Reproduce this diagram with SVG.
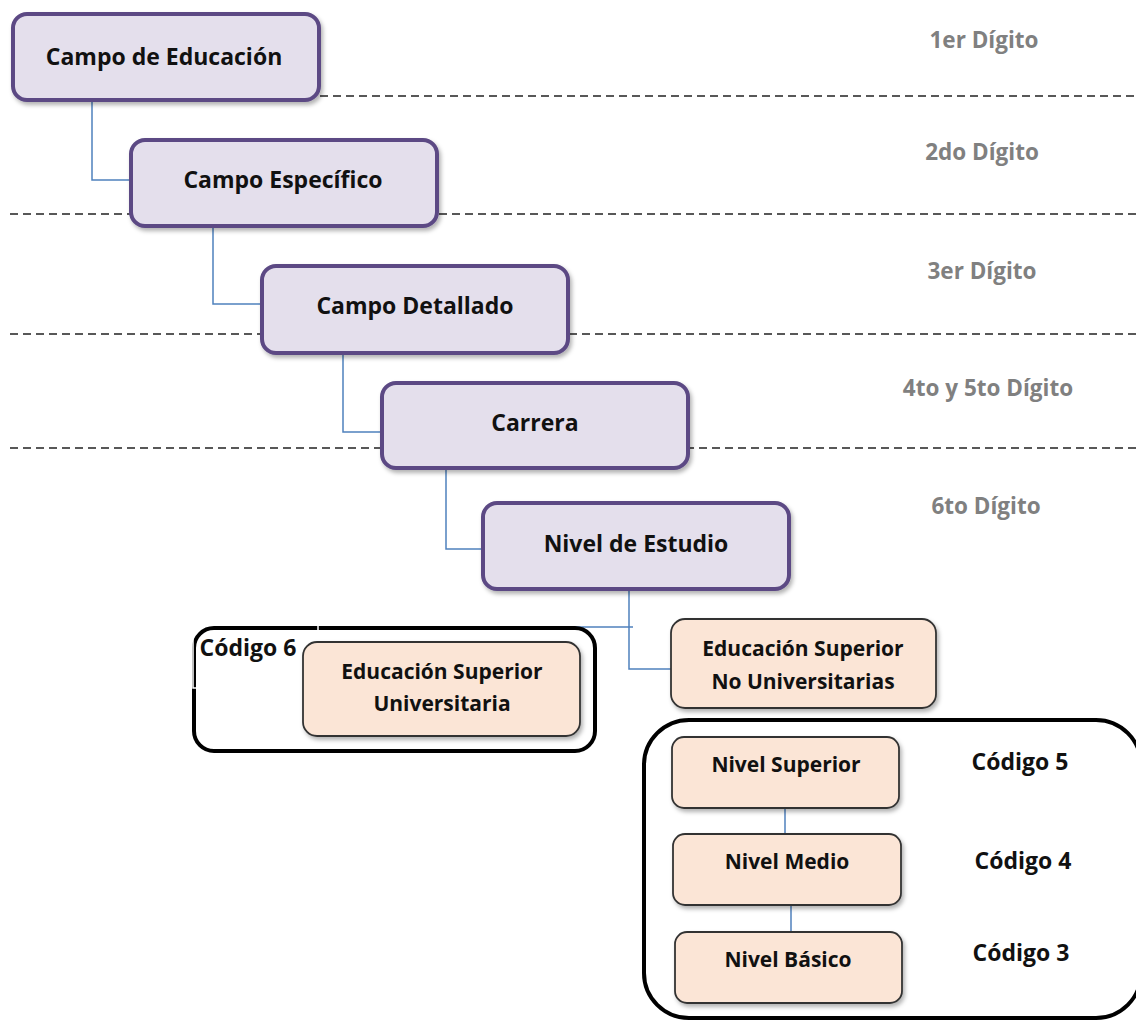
<svg xmlns="http://www.w3.org/2000/svg" width="1136" height="1021" viewBox="0 0 1136 1021">
<defs>
  <filter id="sh" x="-10%" y="-10%" width="125%" height="130%">
    <feDropShadow dx="2" dy="3" stdDeviation="2" flood-color="#000" flood-opacity="0.3"/>
  </filter>
</defs>
<style>
  .p { fill:#e4dfec; stroke:#5c4a84; stroke-width:4; filter:url(#sh); }
  .o { fill:#fbe5d6; stroke:#333333; stroke-width:1.8; filter:url(#sh); }
  .frame { fill:none; stroke:#000; stroke-width:4; }
  .t { font-family:"Open Sans","Liberation Sans",sans-serif; font-weight:bold; font-size:21px; fill:#111; text-anchor:middle; }
  .big { font-size:23px; }
  .g { font-family:"Open Sans","Liberation Sans",sans-serif; font-weight:bold; font-size:22.5px; fill:#808080; text-anchor:middle; }
  .dash { stroke:#222; stroke-width:1.6; stroke-dasharray:8 5; fill:none; }
  .c { stroke:#4f81bd; stroke-width:1.5; fill:none; }
</style>
<rect width="1136" height="1021" fill="#fff"/>

<g id="levels">
  <line class="dash" x1="320" y1="96" x2="1136" y2="96"/>
  <line class="dash" x1="10" y1="214" x2="1136" y2="214"/>
  <line class="dash" x1="10" y1="334" x2="1136" y2="334"/>
  <line class="dash" x1="10" y1="448" x2="1136" y2="448"/>
  <text class="g" x="984" y="48">1er Dígito</text>
  <text class="g" x="982" y="160">2do Dígito</text>
  <text class="g" x="982" y="279">3er Dígito</text>
  <text class="g" x="988" y="396">4to y 5to Dígito</text>
  <text class="g" x="986" y="514">6to Dígito</text>
</g>

<g id="connectors">
  <polyline class="c" points="92,100 92,180 130,180"/>
  <polyline class="c" points="213,226 213,304 261,304"/>
  <polyline class="c" points="343,353 343,432 382,432"/>
  <polyline class="c" points="446,468 446,549 483,549"/>
  <polyline class="c" points="629,589 629,669 671,669"/>
  <line class="c" x1="318" y1="627" x2="633" y2="627"/>
  <line class="c" x1="785" y1="808" x2="785" y2="834"/>
  <line class="c" x1="791" y1="905" x2="791" y2="932"/>
</g>

<g id="n1">
  <rect class="p" x="13" y="14" width="306" height="86" rx="14"/>
  <text class="t big" x="164" y="65">Campo de Educación</text>
</g>
<g id="n2">
  <rect class="p" x="131" y="140" width="306" height="86" rx="14"/>
  <text class="t big" x="283" y="188">Campo Específico</text>
</g>
<g id="n3">
  <rect class="p" x="262" y="266" width="306" height="87" rx="14"/>
  <text class="t big" x="415" y="314">Campo Detallado</text>
</g>
<g id="n4">
  <rect class="p" x="382" y="383" width="306" height="85" rx="14"/>
  <text class="t big" x="535" y="431">Carrera</text>
</g>
<g id="n5">
  <rect class="p" x="483" y="503" width="306" height="86" rx="14"/>
  <text class="t big" x="636" y="552">Nivel de Estudio</text>
</g>

<g id="codigo6">
  <rect class="frame" x="194" y="628" width="401" height="123" rx="20"/>
  <rect x="193" y="625" width="125" height="63" fill="none" stroke="#fff" stroke-width="1.5"/>
  <text class="t big" x="248" y="656">Código 6</text>
</g>
<g id="esu">
  <rect class="o" x="303" y="642" width="277" height="94" rx="14"/>
  <text class="t" x="442" y="679">Educación Superior</text>
  <text class="t" x="442" y="711">Universitaria</text>
</g>
<g id="enu">
  <rect class="o" x="671" y="619" width="265" height="89" rx="14"/>
  <text class="t" x="803" y="656">Educación Superior</text>
  <text class="t" x="803" y="689">No Universitarias</text>
</g>

<g id="frame-nu">
  <rect class="frame" x="644" y="720" width="497" height="298" rx="45"/>
</g>
<g id="nsup">
  <rect class="o" x="672" y="737" width="227" height="71" rx="12"/>
  <text class="t" x="786" y="772">Nivel Superior</text>
</g>
<g id="nmed">
  <rect class="o" x="673" y="834" width="228" height="71" rx="12"/>
  <text class="t" x="787" y="869">Nivel Medio</text>
</g>
<g id="nbas">
  <rect class="o" x="675" y="932" width="227" height="71" rx="12"/>
  <text class="t" x="788" y="967">Nivel Básico</text>
</g>
<g id="codes">
  <text class="t big" x="1020" y="770">Código 5</text>
  <text class="t big" x="1023" y="869">Código 4</text>
  <text class="t big" x="1021" y="961">Código 3</text>
</g>
</svg>
